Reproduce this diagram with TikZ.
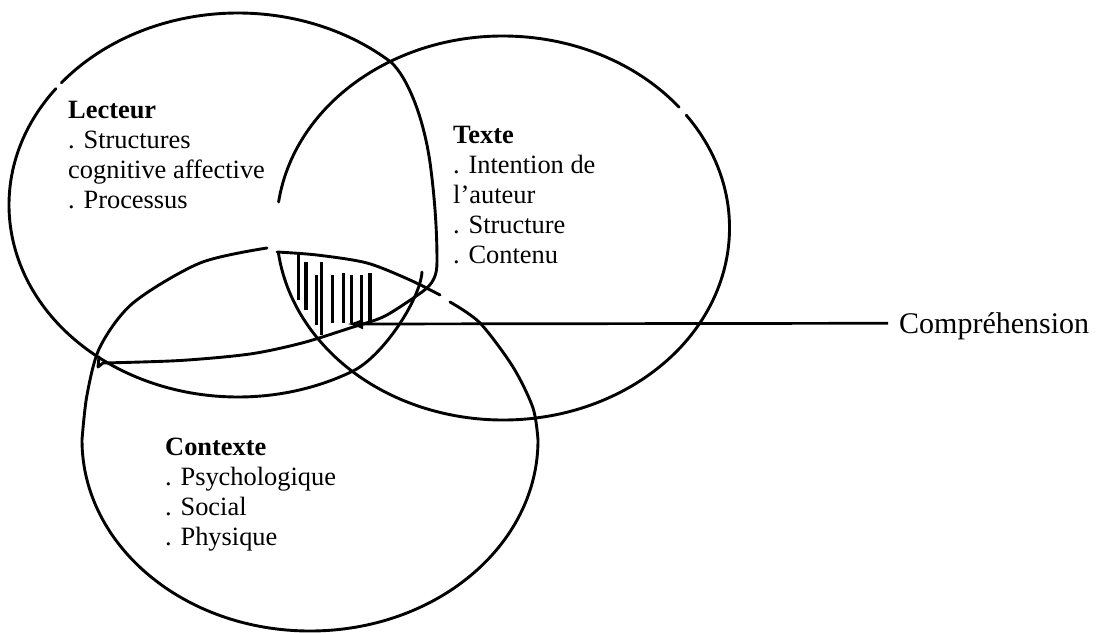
\documentclass[tikz,border=0pt]{standalone}
\usepackage{fontspec}
\setmainfont{Liberation Serif}
\usetikzlibrary{arrows.meta}
\begin{document}
\begin{tikzpicture}[x=1pt,y=-1pt,
  curve/.style={line width=2.9pt, line cap=round, line join=round},
  hatch/.style={line width=3.1pt},
  txt/.style={align=left, anchor=base west, inner sep=0pt, font=\fontsize{26.4}{30}\selectfont},
  arr/.style={line width=2.7pt, -{Latex[length=16pt,width=11pt]}}]
\useasboundingbox[fill=white] (0,0) rectangle (1097,632);

% Lecteur: lower arc with hook
\draw[curve] (238,205) ++(217.3:229 and 192)
  arc[start angle=217.3, end angle=60, x radius=229, y radius=192]
  .. controls (382.5,356.8) and (420,300) .. (422,272);
% Lecteur: upper arc and freeform outline
\draw[curve] (238,205) ++(219.5:229 and 192)
  arc[start angle=219.5, end angle=312, x radius=229, y radius=192]
  .. controls (408,78) and (425,120) .. (431,170)
  .. controls (436,210) and (437,240) .. (437,262)
  .. controls (437,276) and (433,284) .. (422,292)
  -- plot[smooth] coordinates {(422,292) (385,316) (350,328) (302,343) (250,354) (180,360.5) (103,363)}
  -- (98,367) -- (99,357);

% Texte
\draw[curve] (503,228) ++(187.8:226.5 and 192)
  arc[start angle=187.8, end angle=321, x radius=226.5, y radius=192];
\draw[curve] (503,228) ++(324:226.5 and 192)
  arc[start angle=324, end angle=532.5, x radius=226.5, y radius=192];

% Contexte
\draw[curve] plot[smooth] coordinates {(267,248) (200,263) (133,303) (100,347) (87,395) (82,440)}
  arc[start angle=180, end angle=0, x radius=228, y radius=191]
  -- plot[smooth] coordinates {(538,440) (533,408) (513,367) (480,323) (450,302)};
\draw[curve] plot[smooth] coordinates {(440,295) (410,280) (367,263) (317,255) (277,252)};

% hatching of the common part
\foreach \x/\ya/\yb in {298.3/253.3/300, 306/261.7/310, 316.7/275/325, 321.7/261.7/335,
  332.7/275/323.3, 343.3/273.3/323.3, 351.7/275/323.3, 361.7/275/321.7, 370/273.3/321.7}
  \draw[hatch] (\x,\ya) -- (\x,\yb);

% texts (anchored at the baseline of their last line)
\node[txt] (lecteur) at (68,208.5) {\textbf{Lecteur}\\. Structures\\cognitive affective\\. Processus};
\node[txt] (texte) at (453,263) {\textbf{Texte}\\. Intention de\\l’auteur\\. Structure\\. Contenu};
\node[txt] (contexte) at (165,545) {\textbf{Contexte}\\. Psychologique\\. Social\\. Physique};
\node[txt, font=\fontsize{30}{34}\selectfont] (comp) at (899,333) {Compréhension};

% arrow
\coordinate (tip) at (347,324);
\draw[arr] ([xshift=-11pt,yshift=2.5pt]comp.west) -- (tip);
\end{tikzpicture}
\end{document}
